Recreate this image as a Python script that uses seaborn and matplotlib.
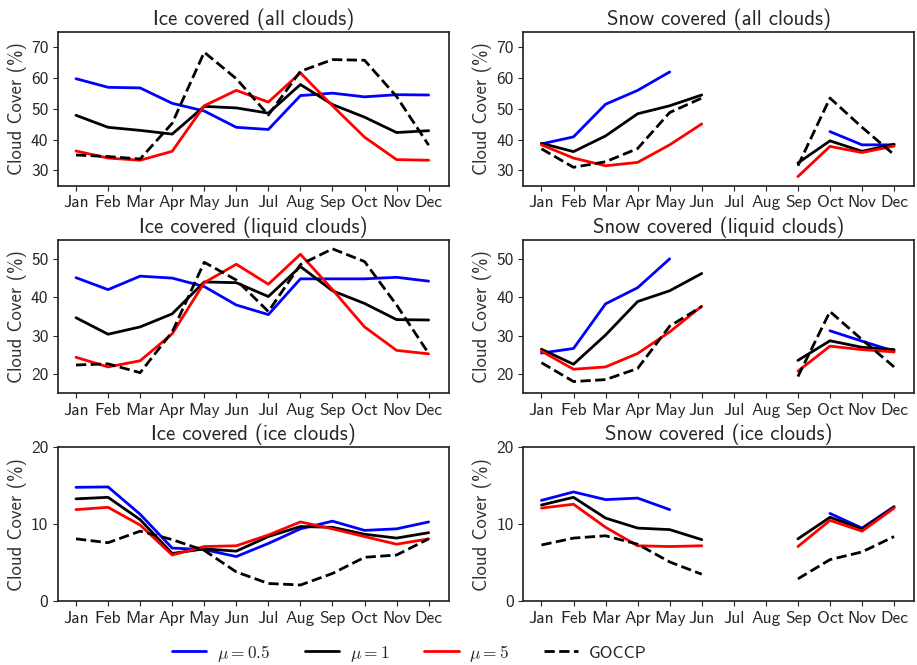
import numpy as np
import pandas as pd
import matplotlib
matplotlib.use("Agg")
import matplotlib.pyplot as plt
import seaborn as sns

months = ["Jan", "Feb", "Mar", "Apr", "May", "Jun", "Jul", "Aug", "Sep", "Oct", "Nov", "Dec"]
nan = np.nan

titles = ["Ice covered (all clouds)", "Snow covered (all clouds)",
          "Ice covered (liquid clouds)", "Snow covered (liquid clouds)",
          "Ice covered (ice clouds)", "Snow covered (ice clouds)"]

series_labels = [r"$\mu = 0.5$", r"$\mu = 1$", r"$\mu = 5$", "GOCCP"]

# Ice covered (all clouds)
ice_all_mu05 = [59.8, 57.0, 56.8, 51.8, 49.3, 44.0, 43.3, 54.3, 55.1, 53.9, 54.6, 54.5]
ice_all_mu1 = [47.9, 44.0, 43.0, 41.8, 50.8, 50.3, 48.6, 57.9, 51.4, 47.3, 42.3, 42.9]
ice_all_mu5 = [36.3, 34.0, 33.3, 36.2, 51.0, 56.0, 52.2, 61.7, 51.0, 40.8, 33.5, 33.3]
ice_all_goccp = [35.0, 34.5, 33.7, 45.3, 68.4, 59.8, 48.0, 62.2, 66.0, 65.8, 54.0, 38.2]

# Snow covered (all clouds)
snow_all_mu05 = [38.6, 40.9, 51.5, 56.0, 62.0, nan, nan, nan, nan, 42.6, 38.3, 38.3]
snow_all_mu1 = [38.8, 36.1, 41.2, 48.4, 51.0, 54.5, nan, nan, 32.4, 39.6, 36.2, 38.5]
snow_all_mu5 = [38.3, 34.0, 31.5, 32.6, 38.3, 45.1, nan, nan, 28.0, 37.8, 35.8, 37.9]
snow_all_goccp = [37.0, 31.0, 32.8, 37.1, 48.8, 53.5, nan, nan, 31.5, 53.5, 44.0, 35.1]

# Ice covered (liquid clouds)
ice_liq_mu05 = [45.1, 42.0, 45.5, 45.0, 42.8, 38.0, 35.5, 44.8, 44.8, 44.8, 45.2, 44.2]
ice_liq_mu1 = [34.7, 30.4, 32.3, 35.7, 44.0, 43.8, 40.2, 48.0, 41.7, 38.4, 34.2, 34.1]
ice_liq_mu5 = [24.4, 21.9, 23.5, 30.5, 43.8, 48.6, 43.4, 51.2, 42.0, 32.3, 26.2, 25.3]
ice_liq_goccp = [22.4, 22.7, 20.4, 31.0, 49.1, 44.5, 36.3, 48.5, 52.6, 49.3, 38.0, 25.4]

# Snow covered (liquid clouds)
snow_liq_mu05 = [25.5, 26.7, 38.3, 42.5, 50.0, nan, nan, nan, nan, 31.3, 28.6, 26.0]
snow_liq_mu1 = [26.5, 22.6, 30.2, 38.9, 41.7, 46.2, nan, nan, 23.6, 28.7, 27.0, 26.4]
snow_liq_mu5 = [26.0, 21.3, 21.9, 25.4, 31.0, 37.7, nan, nan, 20.8, 27.3, 26.4, 25.8]
snow_liq_goccp = [23.0, 18.1, 18.6, 21.5, 32.5, 37.6, nan, nan, 19.4, 36.3, 29.0, 21.9]

# Ice covered (ice clouds)
ice_ice_mu05 = [14.8, 14.85, 11.3, 6.9, 6.7, 5.8, 7.5, 9.4, 10.4, 9.2, 9.4, 10.3]
ice_ice_mu1 = [13.3, 13.5, 10.6, 6.2, 6.8, 6.5, 8.4, 9.7, 9.6, 8.7, 8.2, 8.9]
ice_ice_mu5 = [11.9, 12.2, 9.9, 6.0, 7.1, 7.2, 8.6, 10.3, 9.4, 8.4, 7.4, 8.1]
ice_ice_goccp = [8.1, 7.6, 9.1, 8.0, 6.6, 3.8, 2.3, 2.1, 3.6, 5.7, 6.0, 8.1]

# Snow covered (ice clouds)
snow_ice_mu05 = [13.1, 14.2, 13.2, 13.4, 11.9, nan, nan, nan, nan, 11.4, 9.5, 12.3]
snow_ice_mu1 = [12.5, 13.5, 10.8, 9.5, 9.3, 8.0, nan, nan, 8.1, 10.9, 9.4, 12.2]
snow_ice_mu5 = [12.1, 12.6, 9.6, 7.2, 7.1, 7.2, nan, nan, 7.1, 10.5, 9.1, 12.1]
snow_ice_goccp = [7.3, 8.2, 8.5, 7.4, 5.1, 3.5, nan, nan, 2.9, 5.4, 6.4, 8.4]

panels = [
    [ice_all_mu05, ice_all_mu1, ice_all_mu5, ice_all_goccp],
    [snow_all_mu05, snow_all_mu1, snow_all_mu5, snow_all_goccp],
    [ice_liq_mu05, ice_liq_mu1, ice_liq_mu5, ice_liq_goccp],
    [snow_liq_mu05, snow_liq_mu1, snow_liq_mu5, snow_liq_goccp],
    [ice_ice_mu05, ice_ice_mu1, ice_ice_mu5, ice_ice_goccp],
    [snow_ice_mu05, snow_ice_mu1, snow_ice_mu5, snow_ice_goccp],
]
ylims = [(25, 75), (25, 75), (15, 55), (15, 55), (0, 20), (0, 20)]
yticks = [[30, 40, 50, 60, 70], [30, 40, 50, 60, 70], [20, 30, 40, 50], [20, 30, 40, 50], [0, 10, 20], [0, 10, 20]]

colors = ["#0000ff", "#000000", "#ff0000", "#000000"]
styles = ["-", "-", "-", "--"]

sns.set_theme(style="ticks")
plt.rcParams["font.family"] = ["cmss10", "DejaVu Sans"]
plt.rcParams["mathtext.fontset"] = "cm"
plt.rcParams["axes.unicode_minus"] = False

fig, axes = plt.subplots(3, 2, figsize=(9.17, 6.65), dpi=100)
fig.subplots_adjust(left=0.0633, right=0.9967, top=0.952, bottom=0.096,
                    wspace=0.192, hspace=0.35)

x = np.arange(12)
handles = [None] * 4
for i, ax in enumerate(axes.flat):
    for j, vals in enumerate(panels[i]):
        df = pd.DataFrame({"m": x, "v": vals})
        # split into contiguous segments so gaps stay open
        seg_id = df["v"].isna().cumsum()
        for _, seg in df[df["v"].notna()].groupby(seg_id[df["v"].notna()]):
            sns.lineplot(data=seg, x="m", y="v", ax=ax, color=colors[j],
                         linestyle=styles[j], linewidth=2, estimator=None)
            if handles[j] is None:
                handles[j] = ax.lines[-1]
    ax.set_title(titles[i], fontsize=15, pad=5)
    ax.set_xticks(x)
    ax.set_xticklabels(months, fontsize=12.5)
    ax.set_xlim(-0.56, 11.62)
    ax.set_ylim(*ylims[i])
    ax.set_yticks(yticks[i])
    ax.tick_params(axis="both", length=3.5, width=0.8, pad=3.5)
    ax.tick_params(axis="y", labelsize=12.5)
    ax.set_xlabel("")
    ax.set_ylabel("Cloud Cover (%)", fontsize=13.5, labelpad=3, color="#333333")

fig.legend(handles, series_labels, loc="center", ncol=4, frameon=False,
           bbox_to_anchor=(0.446, 0.018), fontsize=12.5, columnspacing=2.0,
           handletextpad=0.6)

fig.savefig("out.png", dpi=100)
